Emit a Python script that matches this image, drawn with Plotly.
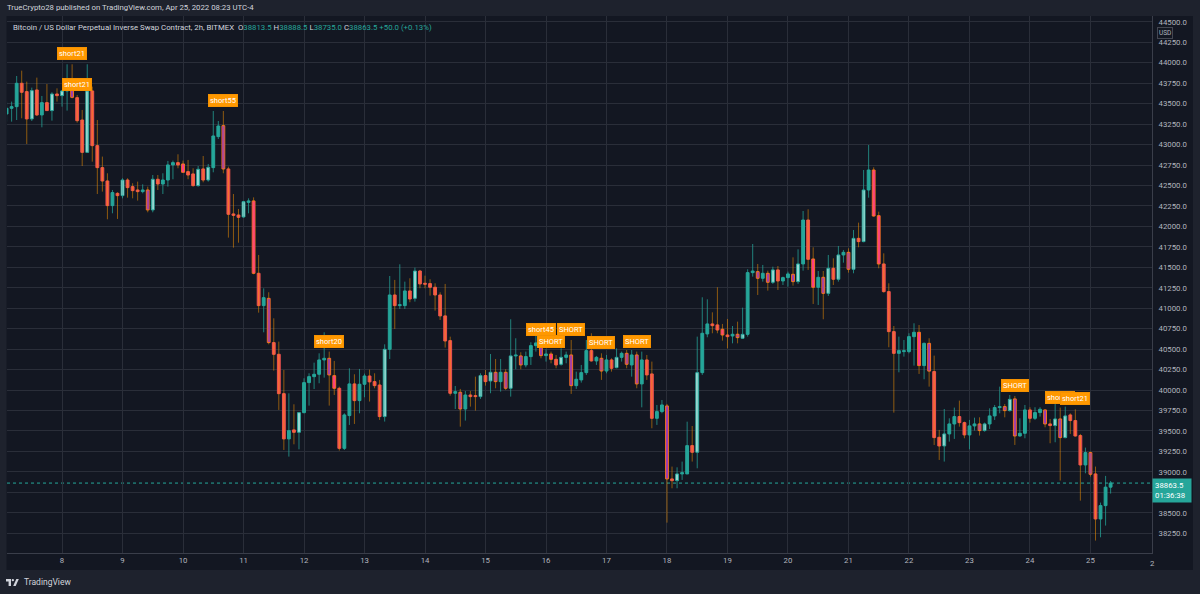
import pandas as pd
import plotly.graph_objects as go

# ---------------- data ----------------
start_time = "2022-04-07 02:00"   # first 2h candle (UTC-4)

open_ = [
    43374, 43443, 43463, 43749, 43647, 43313, 43667, 43362, 43512, 43415,
    43618, 43598, 43655, 43761, 43573, 43300, 42905, 43655, 42987, 42718,
    42555, 42254, 42404, 42376, 42567, 42486, 42445, 42425, 42445, 42201,
    42576, 42518, 42567, 42751, 42779, 42763, 42669, 42641, 42498, 42702,
    42567, 42718, 43097, 43231, 42702, 42152, 42139, 42115, 42294, 42311,
    41427, 41032, 41121, 40580, 40437, 39956, 39403, 39513, 39484, 39724,
    40091, 40164, 40193, 40368, 40388, 40176, 40022, 39288, 39688, 40075,
    39871, 40071, 40172, 40103, 40062, 39676, 40498, 41162, 41032, 41032,
    41211, 41121, 41455, 41305, 41301, 41256, 41162, 40906, 40604, 39961,
    39973, 39769, 39940, 39928, 39920, 40177, 40111, 40217, 40103, 40217,
    40022, 40417, 40417, 40307, 40409, 40543, 40572, 40421, 40441, 40376,
    40315, 40400, 40429, 40054, 40124, 40213, 40482, 40356, 40388, 40233,
    40368, 40274, 40400, 40449, 40307, 40429, 40075, 40368, 40197, 39655,
    39737, 39806, 38914, 38893, 38975, 38975, 39321, 39240, 40213, 40686,
    40808, 40796, 40743, 40673, 40661, 40682, 40633, 40681, 41435, 41447,
    41366, 41427, 41317, 41468, 41333, 41374, 41415, 41325, 41541, 42078,
    41602, 41256, 41378, 41182, 41488, 41354, 41651, 41683, 41476, 41854,
    41814, 42445, 42689, 42131, 41541, 41203, 40714, 40449, 40470, 40470,
    40653, 40706, 40299, 40571, 40226, 39423, 39317, 39464, 39586, 39676,
    39602, 39452, 39562, 39586, 39505, 39586, 39684, 39786, 39798, 39749,
    39892, 39439, 39472, 39757, 39655, 39725, 39757, 39586, 39566, 39647,
    39419, 39696, 39627, 39444, 39085, 39236, 38975, 38425, 38588, 38813.5,
]
high = [
    43525, 43525, 43838, 43903, 43769, 43696, 43818, 43594, 43740, 43639,
    43687, 43667, 43981, 43981, 43606, 43423, 43981, 43708, 43300, 42853,
    42649, 42445, 42417, 42588, 42588, 42527, 42547, 42514, 42486, 42628,
    42628, 42649, 42800, 42804, 42881, 42804, 42812, 42710, 42738, 42860,
    42763, 43410, 43288, 43410, 42730, 42396, 42213, 42311, 42343, 42355,
    41651, 41243, 41195, 40877, 40592, 40246, 39960, 39826, 39730, 40144,
    40205, 40335, 40449, 40706, 40470, 40356, 40042, 39716, 40266, 40193,
    40258, 40201, 40250, 40205, 40124, 40559, 41394, 41346, 41537, 41325,
    41366, 41496, 41468, 41398, 41354, 41305, 41195, 41297, 40653, 40050,
    40014, 39989, 39989, 40164, 40205, 40246, 40441, 40380, 40380, 40254,
    40865, 40633, 40462, 40470, 40584, 40706, 40612, 40498, 40470, 40429,
    40510, 40470, 40612, 40225, 40307, 40612, 40694, 40417, 40449, 40429,
    40388, 40510, 40470, 40490, 40490, 40470, 40470, 40429, 40348, 39818,
    39879, 39830, 39065, 39056, 39126, 39614, 39561, 40653, 41134, 41109,
    40950, 41256, 40808, 40869, 40783, 40836, 41007, 41476, 41785, 41541,
    41529, 41459, 41508, 41516, 41386, 41447, 41622, 41720, 42188, 42209,
    41745, 41455, 41455, 41651, 41610, 41761, 41712, 41732, 41956, 42046,
    42689, 42995, 42722, 42180, 41671, 41305, 40783, 40653, 40612, 40694,
    40816, 40795, 40580, 40633, 40421, 39513, 39769, 39655, 39786, 39871,
    39615, 39635, 39663, 39667, 39602, 39777, 39818, 40042, 39830, 39940,
    39928, 39655, 39818, 39790, 39790, 39790, 39765, 39647, 39900, 39786,
    39798, 39716, 39765, 39464, 39297, 39248, 39065, 38625, 38951, 38888.5,
]
low = [
    43280, 43280, 43300, 43321, 43007, 43288, 43349, 43211, 43415, 43292,
    43525, 43463, 43415, 43565, 43268, 42738, 42905, 42791, 42396, 42425,
    42087, 42160, 42091, 42343, 42351, 42343, 42315, 42404, 42172, 42172,
    42445, 42396, 42486, 42576, 42710, 42661, 42576, 42486, 42486, 42539,
    42547, 42661, 43068, 42649, 41863, 41740, 41801, 42107, 42160, 41415,
    40946, 40706, 40559, 40237, 39757, 39268, 39187, 39337, 39276, 39716,
    39810, 40013, 40083, 40152, 39810, 39940, 39260, 39268, 39574, 39586,
    39716, 39912, 39860, 40022, 39635, 39615, 40380, 40747, 40991, 40991,
    41073, 41081, 41244, 41244, 41154, 40971, 40857, 40519, 39932, 39769,
    39553, 39627, 39798, 39749, 39892, 40054, 39961, 40022, 39981, 40002,
    39920, 40254, 40254, 40278, 40307, 40470, 40388, 40348, 40327, 40266,
    40299, 40327, 39953, 40014, 40091, 40185, 40348, 40307, 40124, 40205,
    40225, 40266, 40348, 40266, 40164, 40022, 39789, 40124, 39533, 39574,
    39716, 38380, 38800, 38800, 38902, 38975, 39126, 39044, 40185, 40645,
    40694, 40694, 40604, 40510, 40571, 40571, 40624, 40653, 41386, 41162,
    41325, 41215, 41297, 41223, 41284, 41264, 41276, 41297, 41459, 41468,
    41052, 41040, 40865, 41150, 41284, 41325, 41557, 41435, 41427, 41745,
    41806, 42351, 42119, 41488, 41190, 40523, 39724, 40217, 40409, 40449,
    40299, 40197, 40132, 40042, 39329, 39146, 39126, 39370, 39403, 39553,
    39411, 39276, 39505, 39444, 39492, 39525, 39635, 39716, 39667, 39737,
    39329, 39431, 39411, 39602, 39635, 39676, 39545, 39350, 39362, 38894,
    39411, 39464, 39431, 38649, 38983, 38943, 38161, 38201, 38344, 38735,
]
close = [
    43443, 43463, 43749, 43639, 43313, 43659, 43362, 43512, 43415, 43618,
    43598, 43655, 43761, 43577, 43292, 42905, 43655, 42987, 42718, 42555,
    42254, 42413, 42376, 42567, 42474, 42437, 42425, 42445, 42201, 42576,
    42518, 42567, 42751, 42779, 42751, 42661, 42628, 42498, 42698, 42567,
    42722, 43105, 43227, 42702, 42148, 42135, 42111, 42302, 42311, 41427,
    41032, 41129, 40580, 40437, 39956, 39403, 39504, 39484, 39724, 40091,
    40164, 40193, 40368, 40388, 40185, 40022, 39288, 39696, 40075, 39871,
    40071, 40172, 40100, 40054, 39676, 40498, 41162, 41032, 41040, 41211,
    41113, 41455, 41297, 41293, 41256, 41162, 40906, 40600, 39961, 39981,
    39769, 39940, 39920, 39920, 40177, 40103, 40217, 40103, 40217, 40022,
    40417, 40425, 40307, 40409, 40543, 40576, 40421, 40441, 40376, 40307,
    40400, 40429, 40054, 40132, 40213, 40482, 40356, 40400, 40233, 40368,
    40266, 40400, 40449, 40315, 40429, 40075, 40368, 40185, 39655, 39737,
    39818, 38914, 38893, 38975, 38991, 39321, 39240, 40213, 40694, 40808,
    40787, 40734, 40673, 40653, 40682, 40641, 40681, 41435, 41455, 41366,
    41427, 41317, 41468, 41333, 41374, 41419, 41325, 41541, 42078, 41598,
    41256, 41378, 41182, 41488, 41354, 41651, 41683, 41476, 41854, 41814,
    42445, 42689, 42127, 41541, 41203, 40714, 40449, 40482, 40482, 40653,
    40706, 40299, 40571, 40232, 39419, 39317, 39464, 39586, 39676, 39602,
    39452, 39562, 39586, 39505, 39586, 39684, 39786, 39798, 39749, 39887,
    39439, 39472, 39757, 39655, 39725, 39765, 39586, 39566, 39647, 39419,
    39684, 39627, 39439, 39085, 39236, 38971, 38425, 38588, 38813.5, 38863.5,
]
# indicator state of each candle: u=up, w=strong up, d=down, p=strong down, m=extreme down
candle_state = (
    "u u u d d w d u d w "
    "d w u p d d w d d d "
    "d u d w d d d u p w "
    "d u u u d m d d w d "
    "w u u p d d d w u m "
    "d u p d d d u d w u "
    "u u u u p m d u u d "
    "u u d d d w u d u u "
    "d w d d d d d d d u "
    "p u d d w d w p u p "
    "w u p u u u p u m d "
    "w u p u u u d u p u "
    "d w u p u p u d d u "
    "u p d w u u d w u u "
    "d d m d u p w u u p "
    "u p w d u u p w u d "
    "m u p w d w u p w d "
    "w u m m d d d u u u "
    "u m u p d d w u u d "
    "d u u p w u u u p w "
    "p u u d u u p d w p "
    "w d d d u p d u u u"
).split()

label_idx = [13, 14, 43, 64, 106, 108, 112, 118, 125, 200, 209, 212]
label_text = ["short21", "short21", "short55", "short20", "short45", "SHORT",
              "SHORT", "SHORT", "SHORT", "SHORT", "short21", "short21"]

day_ticks = list(range(8, 26))
price_ticks = list(range(38250, 44501, 250))
countdown = "01:36:38"
header = "TrueCrypto28 published on TradingView.com, Apr 25, 2022 08:23 UTC-4"
symbol_title = "Bitcoin / US Dollar Perpetual Inverse Swap Contract, 2h, BITMEX"

# ---------------- styling ----------------
BG = "#131722"
FRAME = "#1e222d"
GRID = "#2a2e39"
AXIS_LINE = "#3a3e4a"
TXT = "#b2b5be"
TEAL = "#26a69a"
FONT = "Roboto, 'Liberation Sans', sans-serif"

fill_map = {"u": TEAL, "w": "#f2fffd", "d": "#ef5350", "p": "#7314ff", "m": "#ff12c8"}
edge_map = {"u": TEAL, "w": TEAL, "d": "#ef5350", "p": "#f4731c", "m": "#f4731c"}
UP_WICK = "rgba(38,166,154,0.75)"
DN_WICK = "rgba(255,152,0,0.52)"

W, H = 1200, 594
ML, MR, MT, MB = 7, 48, 16, 41
PW, PH = W - ML - MR, H - MT - MB


def px(x):
    return (x - ML) / PW


def py(y):
    return (MT + PH - y) / PH


times = pd.date_range(start_time, periods=len(close), freq="2h")
two_h_ms = 2 * 3600 * 1000

# wicks
up_x, up_y, dn_x, dn_y = [], [], [], []
for t, o, h, l, c in zip(times, open_, high, low, close):
    if c >= o:
        up_x += [t, t, None]
        up_y += [l, h, None]
    else:
        dn_x += [t, t, None]
        dn_y += [l, h, None]

body_base = [min(o, c) for o, c in zip(open_, close)]
body_h = [max(abs(c - o), 12) for o, c in zip(open_, close)]

fig = go.Figure()
fig.add_trace(go.Scatter(x=up_x, y=up_y, mode="lines", line=dict(color=UP_WICK, width=1),
                         hoverinfo="skip", showlegend=False))
fig.add_trace(go.Scatter(x=dn_x, y=dn_y, mode="lines", line=dict(color=DN_WICK, width=1),
                         hoverinfo="skip", showlegend=False))
fig.add_trace(go.Bar(
    x=times, y=body_h, base=body_base, width=two_h_ms * 0.56,
    marker=dict(color=[fill_map[s] for s in candle_state],
                line=dict(color=[edge_map[s] for s in candle_state], width=1)),
    hoverinfo="skip", showlegend=False))

last_c = close[-1]
chg = close[-1] - close[-2]
pct = chg / close[-2] * 100

annotations = []
# signal labels
for i, txt in zip(label_idx, label_text):
    annotations.append(dict(
        x=times[i], y=high[i], xref="x", yref="y", text=txt, showarrow=False,
        yanchor="bottom", yshift=4, font=dict(family=FONT, size=7.5, color="#ffffff"),
        bgcolor="#ff9800", bordercolor="#f59100", borderwidth=1, borderpad=1))

# header & legend line
annotations.append(dict(x=px(5), y=py(7.5), xref="paper", yref="paper", xanchor="left",
                        yanchor="middle", showarrow=False, text=header,
                        font=dict(family=FONT, size=7.8, color="#d1d4dc")))


def val(v):
    return f"<span style='color:{TEAL}'>{v}</span>"


legend_txt = (f"{symbol_title}  O{val(f'{open_[-1]:.1f}')} H{val(f'{high[-1]:.1f}')} "
              f"L{val(f'{low[-1]:.1f}')} C{val(f'{last_c:.1f}')} "
              f"{val(f'{chg:+.1f} ({pct:+.2f}%)')}")
annotations.append(dict(x=px(11), y=py(27), xref="paper", yref="paper", xanchor="left",
                        yanchor="middle", showarrow=False, text=legend_txt,
                        font=dict(family=FONT, size=7.8, color="#d1d4dc")))

# USD badge
annotations.append(dict(x=px(1172.5), y=py(27), xref="paper", yref="paper", showarrow=False,
                        text="USD", font=dict(family=FONT, size=6.5, color=TXT),
                        bgcolor=BG, bordercolor="#434651", borderwidth=1, borderpad=1))

# current price tag
annotations.append(dict(x=px(1152), y=last_c, xref="paper", yref="y", xanchor="left",
                        yanchor="top", yshift=5.5, showarrow=False, align="left",
                        text=f"{last_c:.1f}<br>{countdown}",
                        font=dict(family=FONT, size=7.8, color="#ffffff"),
                        bgcolor=TEAL, borderpad=2, width=34))

# clipped "26" label at the right edge of the time scale
annotations.append(dict(x=px(1148), y=py(563), xref="paper", yref="paper", showarrow=False,
                        xanchor="left", yanchor="middle",
                        text="2", font=dict(family=FONT, size=7.8, color=TXT)))

# footer brand
annotations.append(dict(x=px(21.5), y=py(582), xref="paper", yref="paper", xanchor="left",
                        yanchor="middle", showarrow=False, text="TradingView",
                        font=dict(family=FONT, size=8.5, color="#d1d4dc")))

shapes = [
    dict(type="rect", xref="paper", yref="paper", x0=px(6.5), x1=px(1193), y0=py(570), y1=py(16),
         fillcolor=BG, line=dict(width=0), layer="below"),
    dict(type="line", xref="paper", yref="y", x0=0, x1=1, y0=last_c, y1=last_c,
         line=dict(color=TEAL, width=1, dash="dot"), layer="between"),
    # TradingView logo pieces
    dict(type="rect", xref="paper", yref="paper", x0=px(6), x1=px(11), y0=py(581.5), y1=py(579),
         fillcolor="#d1d4dc", line=dict(width=0)),
    dict(type="rect", xref="paper", yref="paper", x0=px(8.6), x1=px(11), y0=py(586), y1=py(579),
         fillcolor="#d1d4dc", line=dict(width=0)),
    dict(type="circle", xref="paper", yref="paper", x0=px(11.7), x1=px(14), y0=py(581.3), y1=py(579),
         fillcolor="#d1d4dc", line=dict(width=0)),
    dict(type="path", xref="paper", yref="paper",
         path=f"M {px(13.2)},{py(586)} L {px(16.3)},{py(579)} L {px(18.8)},{py(579)} "
              f"L {px(15.7)},{py(586)} Z",
         fillcolor="#d1d4dc", line=dict(width=0)),
]

# the price tag sits on top of the 38750 label in the reference, so that label is not shown
tick_text = ["" if abs(p - last_c) < 125 else f"{p:.1f}" for p in price_ticks]

fig.update_layout(
    width=W, height=H,
    margin=dict(l=ML, r=MR, t=MT, b=MB, pad=0),
    paper_bgcolor=FRAME, plot_bgcolor=BG,
    barmode="overlay", showlegend=False,
    font=dict(family=FONT, size=7.8, color=TXT),
    annotations=annotations, shapes=shapes,
    xaxis=dict(
        type="date", range=["2022-04-07 02:10", "2022-04-26 00:25"],
        tickvals=[pd.Timestamp(2022, 4, d) for d in day_ticks],
        ticktext=[str(d) for d in day_ticks],
        showgrid=True, gridcolor=GRID, gridwidth=1, zeroline=False,
        showline=True, linecolor=AXIS_LINE, linewidth=1, ticks="",
        tickfont=dict(family=FONT, size=7.8, color=TXT), fixedrange=True,
    ),
    yaxis=dict(
        side="right", range=[38009, 44571],
        tickvals=price_ticks, ticktext=tick_text,
        showgrid=True, gridcolor=GRID, gridwidth=1, zeroline=False,
        showline=True, linecolor=AXIS_LINE, linewidth=1,
        ticks="outside", ticklen=4, tickcolor="rgba(0,0,0,0)",
        tickfont=dict(family=FONT, size=7.8, color=TXT), fixedrange=True,
    ),
)

fig.write_html("out.html", config={"displayModeBar": False})
